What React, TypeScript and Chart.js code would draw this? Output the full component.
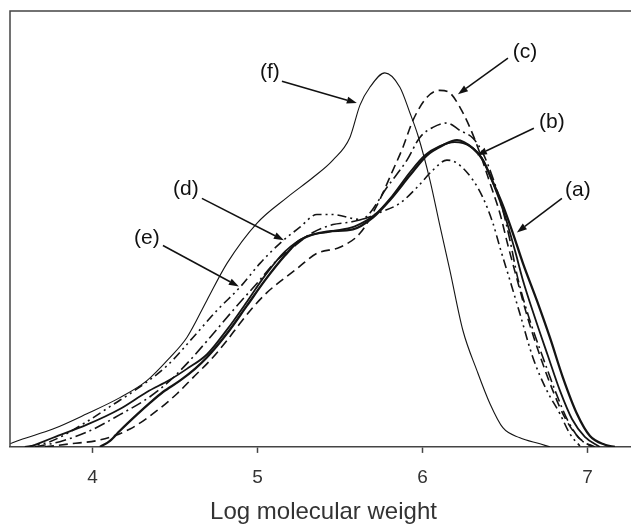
import React, { useEffect, useRef } from "react";
import { Chart, registerables } from "chart.js";

Chart.register(...registerables);

const FONT = "'Liberation Sans', Arial, Helvetica, sans-serif";

const xTicks = [4, 5, 6, 7];
const xTitle = "Log molecular weight";

// (a) solid, heavier
const aLogMW = [4.045, 4.106, 4.166, 4.269, 4.348, 4.427, 4.530, 4.621, 4.693, 4.815, 4.936, 5.045, 5.166, 5.257, 5.421, 5.578, 5.699, 5.802, 5.924, 6.027, 6.124, 6.209, 6.306, 6.366, 6.427, 6.487, 6.548, 6.609, 6.693, 6.772, 6.851, 6.936, 7.015, 7.106, 7.166];
const aSignal = [0, 1.4, 3.7, 7.4, 10.1, 12.6, 15.2, 17.9, 20.5, 26.0, 32.4, 38.2, 43.9, 47.4, 49.4, 49.9, 52.6, 56.6, 62.3, 66.9, 69.2, 70.4, 68.5, 65.8, 60.7, 55.4, 49.0, 42.1, 33.6, 25.1, 15.9, 7.6, 2.5, 0.5, 0];

// (b) solid
const bLogMW = [3.621, 3.760, 3.966, 4.166, 4.330, 4.469, 4.572, 4.693, 4.815, 4.936, 5.045, 5.166, 5.287, 5.439, 5.590, 5.712, 5.815, 5.924, 6.015, 6.105, 6.196, 6.287, 6.360, 6.433, 6.499, 6.560, 6.609, 6.681, 6.760, 6.833, 6.906, 6.984, 7.075];
const bSignal = [0, 2.1, 5.1, 8.7, 12.6, 15.4, 17.9, 21.2, 26.9, 33.3, 39.3, 44.8, 48.1, 49.4, 50.6, 53.3, 57.5, 63.0, 66.9, 69.0, 69.9, 69.0, 66.2, 60.0, 53.1, 45.1, 38.2, 29.7, 20.9, 12.9, 6.4, 2.3, 0];

// (c) dashed
const cLogMW = [3.712, 3.863, 4.045, 4.227, 4.390, 4.512, 4.609, 4.712, 4.815, 4.893, 4.972, 5.057, 5.136, 5.239, 5.360, 5.499, 5.621, 5.724, 5.821, 5.881, 5.942, 6.027, 6.105, 6.166, 6.227, 6.287, 6.348, 6.409, 6.469, 6.518, 6.572, 6.639, 6.712, 6.790, 6.863, 6.942, 7.027];
const cSignal = [0, 0.7, 1.6, 4.1, 8.3, 12.2, 15.9, 19.8, 24.4, 28.3, 32.0, 35.4, 37.9, 40.9, 44.4, 45.8, 49.0, 55.4, 63.5, 68.7, 74.9, 80.2, 81.8, 81.2, 77.9, 73.3, 67.4, 60.5, 53.6, 46.2, 38.6, 29.4, 20.9, 12.9, 6.7, 2.3, 0];

// (d) dash-dot
const dLogMW = [3.651, 3.802, 3.984, 4.166, 4.348, 4.469, 4.572, 4.712, 4.851, 4.996, 5.118, 5.215, 5.336, 5.457, 5.578, 5.663, 5.784, 5.906, 5.984, 6.063, 6.148, 6.227, 6.306, 6.366, 6.427, 6.487, 6.530, 6.578, 6.651, 6.730, 6.809, 6.881, 6.954, 7.045];
const dSignal = [0, 1.2, 3.7, 7.4, 11.5, 15.2, 19.1, 25.1, 31.3, 37.5, 42.8, 45.8, 49.2, 51.0, 51.7, 52.9, 59.5, 65.8, 71.0, 73.3, 74.3, 72.6, 70.8, 67.4, 61.6, 54.3, 47.4, 38.6, 29.0, 20.5, 12.4, 6.0, 1.8, 0];

// (e) dash-dot-dot
const eLogMW = [3.590, 3.742, 3.966, 4.124, 4.227, 4.451, 4.609, 4.754, 4.893, 5.015, 5.136, 5.257, 5.360, 5.457, 5.621, 5.742, 5.863, 5.966, 6.063, 6.148, 6.209, 6.306, 6.366, 6.427, 6.469, 6.530, 6.590, 6.669, 6.754, 6.833, 6.893, 6.954];
const eSignal = [0, 1.2, 5.8, 9.7, 12.2, 18.6, 25.1, 31.3, 36.6, 42.1, 46.7, 50.4, 53.3, 53.3, 52.2, 53.8, 55.9, 59.5, 63.5, 65.8, 65.1, 61.2, 57.2, 51.3, 45.8, 38.2, 30.6, 20.5, 12.9, 7.6, 3.0, 0.2];

// (f) thin solid
const fLogMW = [3.499, 3.560, 3.760, 3.966, 4.166, 4.330, 4.469, 4.572, 4.693, 4.815, 4.996, 5.178, 5.336, 5.457, 5.560, 5.621, 5.681, 5.772, 5.863, 5.924, 5.972, 6.045, 6.105, 6.166, 6.245, 6.330, 6.409, 6.487, 6.590, 6.712, 6.772];
const fSignal = [0.7, 1.6, 4.1, 7.6, 11.3, 15.2, 20.5, 25.1, 33.6, 42.1, 51.3, 57.2, 61.8, 65.8, 71.0, 78.4, 82.5, 85.8, 82.5, 76.6, 71.5, 61.2, 50.8, 40.5, 26.7, 17.5, 9.9, 4.4, 2.1, 0.7, 0];

// annotations: label text, label position, arrow start and arrow tip (data units)
const noteLabels = ["(a)", "(b)", "(c)", "(d)", "(e)", "(f)"];
const noteTextX = [6.942, 6.784, 6.621, 4.566, 4.330, 5.075];
const noteTextY = [58.9, 74.5, 90.6, 59.1, 47.8, 86.0];
const noteFromX = [6.845, 6.675, 6.518, 4.663, 4.427, 5.148];
const noteFromY = [57.0, 73.1, 89.2, 57.0, 46.2, 83.9];
const noteToX = [6.572, 6.330, 6.215, 5.160, 4.887, 5.602];
const noteToY = [49.2, 66.9, 80.9, 47.4, 36.8, 78.9];

const LINE = "#141414";

function pts(xs: number[], ys: number[]) {
  return xs.map((x, i) => ({ x, y: ys[i] }));
}

const framePlugin = {
  id: "frame",
  afterDraw(chart: any) {
    const { ctx, chartArea } = chart;
    ctx.save();
    ctx.strokeStyle = "#444";
    ctx.lineWidth = 1.5;
    ctx.beginPath();
    ctx.moveTo(chartArea.left, chartArea.bottom);
    ctx.lineTo(chartArea.left, chartArea.top);
    ctx.lineTo(chartArea.right + 5, chartArea.top);
    ctx.stroke();
    ctx.restore();
  },
};

const notesPlugin = {
  id: "notes",
  afterDatasetsDraw(chart: any) {
    const { ctx } = chart;
    const xs = chart.scales.x;
    const ys = chart.scales.y;
    ctx.save();
    ctx.fillStyle = "#111";
    ctx.strokeStyle = "#111";
    ctx.font = `21px ${FONT}`;
    ctx.textAlign = "center";
    ctx.textBaseline = "middle";
    for (let i = 0; i < noteLabels.length; i++) {
      const tx = xs.getPixelForValue(noteTextX[i]);
      const ty = ys.getPixelForValue(noteTextY[i]);
      ctx.fillText(noteLabels[i], tx, ty);
      const x0 = xs.getPixelForValue(noteFromX[i]);
      const y0 = ys.getPixelForValue(noteFromY[i]);
      const x1 = xs.getPixelForValue(noteToX[i]);
      const y1 = ys.getPixelForValue(noteToY[i]);
      const ang = Math.atan2(y1 - y0, x1 - x0);
      const hl = 10;
      const hw = 3.5;
      const bx = x1 - hl * Math.cos(ang);
      const by = y1 - hl * Math.sin(ang);
      ctx.lineWidth = 1.5;
      ctx.beginPath();
      ctx.moveTo(x0, y0);
      ctx.lineTo(bx, by);
      ctx.stroke();
      ctx.beginPath();
      ctx.moveTo(x1, y1);
      ctx.lineTo(bx + hw * Math.sin(ang), by - hw * Math.cos(ang));
      ctx.lineTo(bx - hw * Math.sin(ang), by + hw * Math.cos(ang));
      ctx.closePath();
      ctx.fill();
    }
    ctx.restore();
  },
};

export default function App() {
  const ref = useRef<HTMLCanvasElement>(null);
  useEffect(() => {
    document.body.style.margin = "0";
    const canvas = ref.current!;
    const common = { pointRadius: 0, borderColor: LINE, fill: false, cubicInterpolationMode: "monotone" };
    const chart = new Chart(canvas, {
      type: "line",
      data: {
        datasets: [
          { ...common, label: "(a)", data: pts(aLogMW, aSignal), borderWidth: 2.3 },
          { ...common, label: "(b)", data: pts(bLogMW, bSignal), borderWidth: 1.8 },
          { ...common, label: "(c)", data: pts(cLogMW, cSignal), borderWidth: 1.6, borderDash: [9, 5] },
          { ...common, label: "(d)", data: pts(dLogMW, dSignal), borderWidth: 1.6, borderDash: [11, 4, 2, 4] },
          { ...common, label: "(e)", data: pts(eLogMW, eSignal), borderWidth: 1.6, borderDash: [9, 4, 2, 4, 2, 4] },
          { ...common, label: "(f)", data: pts(fLogMW, fSignal), borderWidth: 1.1 },
        ] as any,
      },
      options: {
        animation: false,
        responsive: false,
        devicePixelRatio: 1,
        layout: { padding: { left: 10, top: 11, right: 3, bottom: 1.5 } },
        plugins: {
          legend: { display: false },
          tooltip: { enabled: false },
          title: { display: false },
        },
        scales: {
          x: {
            type: "linear",
            min: 3.5,
            max: 7.3,
            afterBuildTicks: (s: any) => {
              s.ticks = xTicks.map((v) => ({ value: v }));
            },
            grid: {
              display: true,
              drawOnChartArea: false,
              drawTicks: true,
              tickLength: 6,
              tickColor: "#444",
              tickWidth: 1.5,
            },
            border: { display: true, color: "#444", width: 1.5 },
            ticks: { color: "#333", font: { family: FONT, size: 19 }, padding: 13, maxRotation: 0 },
            title: {
              display: true,
              text: xTitle,
              color: "#333",
              font: { family: FONT, size: 24 },
              padding: { top: -4, bottom: 0 },
            },
          },
          y: { type: "linear", min: 0, max: 100, display: false },
        },
      } as any,
      plugins: [framePlugin, notesPlugin],
    });
    return () => chart.destroy();
  }, []);
  return (
    <div style={{ position: "fixed", left: 0, top: 0, width: 631, height: 528, overflow: "hidden", background: "#fff" }}>
      <canvas ref={ref} width={640} height={528} style={{ display: "block", width: 640, height: 528 }} />
    </div>
  );
}
